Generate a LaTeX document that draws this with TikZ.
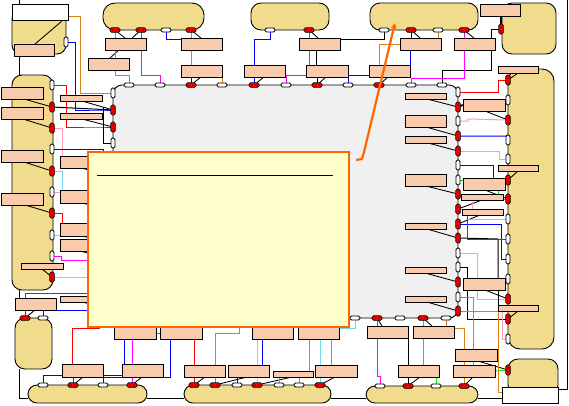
\documentclass[tikz,border=0pt]{standalone}
\usetikzlibrary{arrows.meta}
\pgfdeclarelayer{base}\pgfdeclarelayer{conn}\pgfdeclarelayer{top}
\pgfsetlayers{base,conn,main,top}
\definecolor{peachc}{HTML}{F8CBAD}
\definecolor{tanc}{HTML}{F0DC8C}
\definecolor{grayc}{HTML}{F0F0F0}
\definecolor{yelc}{HTML}{FFFFCC}
\definecolor{orgc}{HTML}{FF6600}
\definecolor{ocre}{HTML}{D98218}
\definecolor{pinkc}{HTML}{FF9CB0}
\definecolor{cyanc}{HTML}{70DCF0}
\definecolor{grnc}{HTML}{00F000}
\definecolor{magc}{HTML}{FF00FF}
\definecolor{bluc}{HTML}{0000FF}
\definecolor{redc}{HTML}{FF0000}
\tikzset{
  boxbase/.style={draw=black,line width=.9pt,inner sep=0,outer sep=0},
  peach/.style={boxbase,fill=peachc},
  tanbox/.style={boxbase,fill=tanc},
  wbox/.style={boxbase,fill=white},
  graybox/.style={boxbase,fill=grayc,rounded corners=9pt},
  rpin/.style={draw=black,line width=.7pt,fill=red,rounded corners=1.5pt,inner sep=0,outer sep=0},
  wpin/.style={draw=black,line width=.8pt,fill=white,rounded corners=1.5pt,inner sep=0,outer sep=0},
  wire/.style={line width=1pt},
  lead/.style={line width=.85pt,black},
  re/.style={wire,redc},bl/.style={wire,bluc},gr/.style={wire,grnc},ma/.style={wire,magc},
  oc/.style={wire,ocre},pk/.style={wire,pinkc},cy/.style={wire,cyanc},bk/.style={wire,black}
}
\newcommand{\bx}[6][peach]{\node[#1,minimum width={(#5-#3)*1pt},minimum height={(#6-#4)*1pt}] (#2) at ({(#3+#5)/2},{(#4+#6)/2}) {};}
\newcommand{\rh}[2]{\node[rpin,minimum width=10pt,minimum height=4.5pt] (r#1x#2) at (#1,#2) {};\fill (#1-2,#2) circle (.7pt) (#1+2,#2) circle (.7pt);}
\newcommand{\rv}[2]{\node[rpin,minimum width=4.5pt,minimum height=10pt] (r#1x#2) at (#1,#2) {};\fill (#1,#2-2) circle (.7pt) (#1,#2+2) circle (.7pt);}
\newcommand{\wh}[2]{\node[wpin,minimum width=10pt,minimum height=4pt] (w#1x#2) at (#1,#2) {};}
\newcommand{\wv}[2]{\node[wpin,minimum width=4pt,minimum height=10pt] (w#1x#2) at (#1,#2) {};}
\begin{document}
\begin{tikzpicture}[x=1pt,y=-1pt]
\useasboundingbox (0,0) rectangle (569,405);
\begin{pgfonlayer}{base}
\bx[tanbox,rounded corners=9pt]{tTL}{12}{10}{66}{54}
\bx[tanbox,rounded corners=10pt]{tLeft}{12}{75}{53}{290}
\bx[tanbox,rounded corners=10pt]{tSm}{15}{318}{52}{369}
\bx[tanbox,rounded corners=12pt]{tT1}{103}{3}{204}{30}
\bx[tanbox,rounded corners=10pt]{tT2}{251}{3}{329}{30}
\bx[tanbox,rounded corners=10pt]{tT3}{370}{3}{478}{30}
\bx[tanbox,rounded corners=10pt]{tRT}{502}{3}{556}{54}
\bx[tanbox,rounded corners=12pt]{tRight}{508}{69}{554}{349}
\bx[tanbox,rounded corners=10pt]{tRB}{508}{359}{558}{395}
\bx[tanbox,rounded corners=9pt]{tB1}{28}{385}{147}{403}
\bx[tanbox,rounded corners=9pt]{tB2}{184}{385}{331}{403}
\bx[tanbox,rounded corners=9pt]{tB3}{366}{386}{478}{403}
\bx[graybox]{gMain}{113}{85}{458}{318}
\end{pgfonlayer}
% white boxes
\bx[wbox]{wTL}{12}{4}{68}{20}
\bx[wbox]{wBR}{502}{387}{558}{403}
% peach boxes
\bx{pL1}{1}{87}{43}{99}\bx{pL2}{1}{107}{43}{119}\bx{pL3}{1}{150}{43}{162}\bx{pL4}{1}{193}{43}{205}\bx{pL5}{21}{263}{63}{269}
\bx{pM1}{60}{95}{102}{101}\bx{pM2}{60}{113}{102}{119}\bx{pM3}{60}{156}{102}{168}\bx{pM4}{60}{190}{102}{203}\bx{pM5}{60}{223}{102}{236}\bx{pM6}{60}{239}{102}{251}\bx{pM7}{60}{296}{102}{302}
\bx{pTL}{14}{44}{54}{56}\bx{pSm}{15}{298}{56}{310}
\bx{pT1}{105}{38}{146}{50}\bx{pT2}{181}{38}{222}{50}\bx{pT3}{88}{58}{129}{70}\bx{pT4}{181}{65}{222}{77}\bx{pT5}{244}{65}{285}{77}\bx{pT6}{299}{38}{340}{50}\bx{pT7}{306}{65}{348}{77}\bx{pT8}{369}{65}{410}{77}\bx{pT9}{400}{38}{441}{50}\bx{pT10}{454}{38}{495}{50}\bx{pT11}{480}{4}{520}{16}
\bx{pI1}{405}{93}{446}{99}\bx{pI2}{405}{115}{446}{127}\bx{pI3}{405}{136}{446}{143}\bx{pI4}{405}{174}{446}{186}\bx{pI5}{405}{223}{446}{229}\bx{pI6}{405}{267}{446}{273}\bx{pI7}{405}{296}{446}{302}
\bx{pR1}{498}{66}{538}{73}\bx{pR2}{463}{99}{505}{111}\bx{pR3}{498}{165}{538}{171}\bx{pR4}{463}{178}{505}{190}\bx{pR5}{461}{194}{503}{200}\bx{pR6}{462}{209}{503}{215}\bx{pR7}{463}{278}{505}{290}\bx{pR8}{498}{305}{538}{311}
\bx{pB1}{62}{364}{103}{377}\bx{pB2}{122}{364}{163}{377}\bx{pB3}{184}{365}{225}{377}\bx{pB4}{228}{365}{269}{377}\bx{pB5}{273}{371}{313}{377}\bx{pB6}{315}{365}{357}{377}\bx{pB7}{398}{365}{439}{377}\bx{pB8}{453}{365}{495}{377}\bx{pB9}{455}{349}{497}{361}\bx{pB10}{367}{326}{408}{338}\bx{pB11}{413}{326}{454}{338}
\bx{pU1}{114}{327}{156}{339}\bx{pU2}{160}{327}{202}{339}\bx{pU3}{252}{327}{293}{339}\bx{pU4}{298}{327}{339}{339}
% pins
\wv{66}{42}
\wv{52}{85}\rv{52}{107}\rv{52}{128}\wv{52}{149}\rv{52}{171}\wv{52}{192}\rv{52}{213}\wv{52}{235}\wv{52}{256}\rv{52}{277}
\wv{113}{93}\rv{113}{110}\rv{113}{127}\wv{113}{143}
\wh{129}{85}\wh{160}{85}\rh{191}{85}\wh{222}{85}\rh{254}{85}\wh{286}{85}\rh{317}{85}\wh{348}{85}\rh{379}{85}\wh{411}{85}\wh{442}{85}
\rh{115}{30}\rh{141}{30}\wh{166}{30}\rh{191}{30}\wh{270}{30}\rh{309}{30}\wh{384}{30}\rh{411}{30}\wh{438}{30}\rh{464}{30}
\rv{501}{29}
\wv{458}{92}\rv{458}{107}\wv{458}{121}\rv{458}{136}\rv{458}{151}\wv{458}{165}\wv{458}{180}\rv{458}{194}\rv{458}{209}\rv{458}{224}\rv{458}{238}\wv{458}{253}\wv{458}{267}\rv{458}{282}\wv{458}{297}\rv{458}{311}
\rv{508}{80}\wv{508}{100}\rv{508}{120}\wv{508}{140}\wv{508}{159}\rv{508}{180}\rv{508}{199}\wv{508}{219}\wv{508}{239}\wv{508}{259}\wv{508}{279}\rv{508}{299}\rv{508}{319}\wv{508}{339}\rv{508}{370}
\wh{355}{318}\rh{377}{318}\wh{400}{318}\rh{423}{318}\wh{446}{318}
\rh{25}{318}\wh{43}{318}
\wh{43}{385}\rh{73}{385}\wh{103}{385}\rh{132}{385}
\rh{194}{385}\rh{215}{385}\wh{237}{385}\rh{257}{385}\wh{279}{385}\wh{299}{385}\rh{320}{385}
\wh{380}{386}\rh{408}{386}\wh{436}{386}\rh{464}{386}
\begin{pgfonlayer}{conn}
% frame lines
\draw[bk] (19,0) -- (wTL.north -| 19,0);
\draw[bk] (pTL.south -| 19,0) -- (tLeft.north -| 19,0);
\draw[bk] (tLeft.south -| 19,0) -- (pSm.north -| 19,0);
\draw[bk] (tSm.south -| 19,0) -- (19,398) -- (tB1.west |- 0,398);
\draw[bk] (tB1.east |- 0,398) -- (tB2.west |- 0,398);
\draw[bk] (tB2.east |- 0,398) -- (tB3.west |- 0,398);
\draw[bk] (tB3.east |- 0,398) -- (wBR.west |- 0,398);
\draw[bk] (567,0) -- (567,389) -- (wBR.east |- 0,389);
% leaders
\draw[lead] (24,99) -- (r52x107);\draw[lead] (23,119) -- (r52x128);\draw[lead] (24,162) -- (r52x171);\draw[lead] (25,205) -- (r52x213);\draw[lead] (42,269) -- (r52x277);
\draw[lead] (82,101) -- (r113x110);\draw[lead] (82,119) -- (r113x127);
\draw[lead] (62,21) -- (35,44);
\draw[lead] (82,168) -- (95,172);\draw[lead] (82,203) -- (95,206);\draw[lead] (82,236) -- (95,239);\draw[lead] (80,251) -- (95,255);\draw[lead] (82,302) -- (95,305);
\draw[lead] (r115x30) -- (125,38);\draw[lead] (r141x30) -- (110,58);\draw[lead] (r191x30) -- (201,38);
\draw[lead] (201,77) -- (r191x85);\draw[lead] (264,77) -- (r254x85);\draw[lead] (326,77) -- (r317x85);\draw[lead] (388,77) -- (r379x85);
\draw[lead] (r309x30) -- (318,38);\draw[lead] (r411x30) -- (420,38);\draw[lead] (r464x30) -- (474,38);
\draw[lead] (427,99) -- (r458x107);\draw[lead] (426,127) -- (r458x136);\draw[lead] (428,143) -- (r458x151);\draw[lead] (426,186) -- (r458x194);\draw[lead] (427,229) -- (r458x238);\draw[lead] (425,273) -- (r458x282);\draw[lead] (427,302) -- (r458x311);
\draw[lead] (518,73) -- (r508x80);\draw[lead] (485,111) -- (r508x120);\draw[lead] (518,171) -- (r508x180);\draw[lead] (485,190) -- (r508x199);\draw[lead] (482,200) -- (r458x209);\draw[lead] (480,215) -- (r458x224);\draw[lead] (485,290) -- (r508x299);\draw[lead] (518,311) -- (r508x319);
\draw[lead] (382,326) -- (r377x318);\draw[lead] (432,326) -- (r423x318);
\draw[lead] (420,377) -- (r408x386);\draw[lead] (473,377) -- (r464x386);
\draw[lead] (35,310) -- (r25x318);\draw[lead] (83,377) -- (r73x385);\draw[lead] (142,377) -- (r132x385);
\draw[lead] (205,377) -- (r194x385);\draw[lead] (247,377) -- (r215x385);\draw[lead] (292,377) -- (r257x385);\draw[lead] (335,377) -- (r320x385);
\draw[lead] (478,361) -- (r508x370);
% top connectors
\draw[line width=1.8pt] (pT11.south -| r501x29.north) -- (r501x29);
\draw[bk] (r501x29) -- (491,29) -- (491,70) -- (442,70) -- (w442x85);
\draw[ma] (r464x30) -- (464,78) -- (411,78) -- (w411x85);
\draw[bk] (w384x30) -- (384,39) -- (pT6.east |- 0,39);
\draw[bl] (pT8.east |- 0,75) -- (348,75) -- (w348x85);
\draw[bl] (410,50) -- (410,75);
\draw[oc] (w438x30) -- (438,38);
\draw[oc] (pT9.west |- 0,44) -- (379,44) -- (379,65);
\draw[gr] (r115x30) -- (115,75) -- (129,75) -- (w129x85);
\draw[ma] (r141x30) -- (141,75) -- (160,75) -- (w160x85);
\draw[bl] (w166x30) -- (166,39) -- (pT2.west |- 0,39);
\draw[oc] (r191x30) -- (191,65);
\draw[bl] (pT4.south -| 191,0) -- (r191x85);
\draw[oc] (pT4.south -| 222,0) -- (w222x85);
\draw[bl] (pT5.south -| 254,0) -- (r254x85);
\draw[bl] (pT5.north -| 254,0) -- (254,39) -- (270,39) -- (w270x30);
\draw[ma] (w286x85) -- (286,75) -- (pT7.west |- 0,75);
\draw[ma] (r309x30) -- (309,65);
\draw[bk] (316,50) -- (316,65);
\draw[bk] (pT7.south -| 317,0) -- (r317x85);
\draw[bl] (r411x30) -- (411,38);
% left connectors
\draw[oc] (wTL.east |- 0,16) -- (80,16) -- (80,93) -- (w113x93);
\draw[bl] (w66x42) -- (75,42) -- (75,110) -- (104,110) -- (r113x110);
\draw[re] (w52x85) -- (66,85) -- (66,127) -- (100,127) -- (r113x127);
\draw[bk] (r52x107) -- (r113x110);
\draw[bk] (103,107) -- (103,143) -- (w113x143);
\draw[pk] (r52x128) -- (62,128) -- (62,156);
\draw[bl] (w52x149) -- (103,149) -- (103,156);
\draw[cy] (r52x171) -- (62,171) -- (62,190);
\draw[pk] (w52x192) -- (60,192);
\draw[re] (r52x213) -- (62,213) -- (62,223);
\draw[cy] (w52x235) -- (60,235);
\draw[ma] (w52x256) -- (61,256) -- (61,260) -- (95,260);
\draw[cy] (r52x277) -- (95,277);
\draw[re] (pSm.north -| 25,0) -- (25,293) -- (95,293);
\draw[re] (pSm.south -| 25,0) -- (r25x318);
\draw[bl] (w43x318) -- (43,310) -- (95,310);
\draw[re] (pB1.north -| 72,0) -- (72,328) -- (100,328);
\draw[bl] (w43x385) -- (43,375) -- (124,375) -- (pU1.south -| 124,0);
\draw[bl] (w103x385) -- (103,377) -- (170,377) -- (pU2.south -| 170,0);
\draw[ma] (r132x385) -- (pU1.south -| 132,0);
\draw[ma] (pU1.east |- 0,333) -- (pU2.west |- 0,333);
\draw[re] (r73x385) -- (73,377);
% bottom connectors
\draw[re] (r194x385) -- (pU2.south -| 194,0);
\draw[gr] (r215x385) -- (215,333) -- (239,333) -- (239,325);
\draw[bl] (w237x385) -- (237,377);
\draw[cy] (r257x385) -- (pU3.south -| 257,0);
\draw[bl] (pU3.south -| 262,0) -- (262,365);
\draw[gr] (pU4.south -| 309,0) -- (309,371);
\draw[cy] (r320x385) -- (pU4.south -| 320,0);
\draw[oc] (pU4.south -| 331,0) -- (331,365);
\draw[gr] (w279x385) -- (279,377);
\draw[oc] (w299x385) -- (299,377);
\draw[cy] (w355x318) -- (355,328) -- (pU4.east |- 0,328);
\draw[ma] (r377x318) -- (377,376) -- (380,376) -- (w380x386);
\draw[gr] (r423x318) -- (423,365);
\draw[bk] (pB10.south -| 408,0) -- (408,365);
\draw[bk] (pB7.south -| 408,0) -- (r408x386);
\draw[oc] (w446x318) -- (446,326);
\draw[oc] (pB11.east |- 0,328) -- (464,328) -- (r464x386);
\draw[gr] (w436x386) -- (436,377);
% right connectors
\draw[re] (w458x92) -- (498,92) -- (498,80) -- (r508x80);
\draw[pk] (w458x121) -- (468,121) -- (468,119) -- (r508x120);
\draw[bl] (r458x136) -- (507,136) -- (w508x140);
\draw[cy] (r458x151) -- (499,151) -- (499,159) -- (w508x159);
\draw[bl] (w458x165) -- (493,165) -- (493,178);
\draw[gr] (w458x180) -- (463,180);
\draw[line width=1.8pt] (r458x107) -- (pR2.west);
\draw[gr] (498,190) -- (498,199) -- (r508x199);
\draw[bl] (pR4.east) -- (r508x180);
\draw[pk] (472,200) -- (472,209);
\draw[pk] (467,219) -- (w508x219);
\draw[pk] (r458x209) -- (462,209);
\draw[bl] (r458x224) -- (501,224) -- (501,259) -- (w508x259);
\draw[bk] (r458x238) -- (498,239) -- (498,278);
\draw[re] (467,215) -- (467,239) -- (w508x239);
\draw[pk] (w458x253) -- (477,253) -- (477,299) -- (r508x299);
\draw[bk] (w458x267) -- (467,267) -- (467,319) -- (r508x319);
\draw[gr] (w458x297) -- (473,297) -- (473,349);
\draw[gr] (473,361) -- (473,365);
\draw[gr] (pB8.east) -- (r508x370);
\draw[oc] (r458x311) -- (498,311) -- (498,392) -- (wBR.west |- 0,392);
\draw[pk] (502,312) -- (502,339) -- (w508x339);
\draw[bk] (498,290) -- (498,305);
\end{pgfonlayer}
\begin{pgfonlayer}{top}
\node[draw=orgc,line width=2.6pt,fill=yelc,inner sep=0,outer sep=0,minimum width=261pt,minimum height=175pt] (note) at (218.5,239.5) {};
\draw[line width=.9pt] (97,175) -- (333,175);
\draw[orgc,line width=2.2pt,-{Stealth[length=6pt,width=6pt]}] (356,160) -- (362,159) -- (364,152) -- (395,23);
\end{pgfonlayer}
\end{tikzpicture}
\end{document}
